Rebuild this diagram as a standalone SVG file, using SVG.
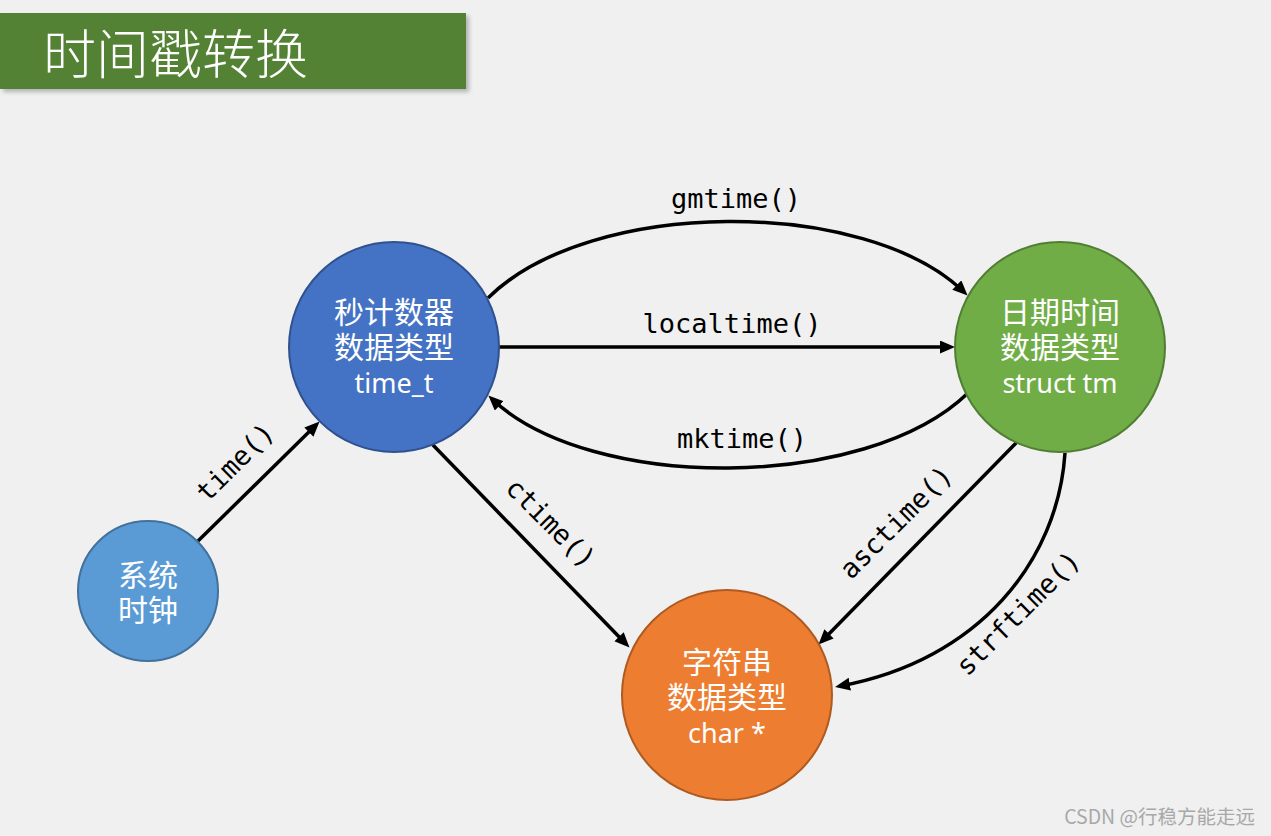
<svg xmlns="http://www.w3.org/2000/svg" width="1271" height="836" viewBox="0 0 1271 836">
  <style>
    .node-text { font-family: "Noto Sans CJK SC", "Noto Sans", sans-serif; font-size: 30px; fill: #ffffff; text-anchor: middle; }
    .lat { font-family: "Noto Sans", "Open Sans", sans-serif; font-size: 27px; }
    .edge { fill: none; stroke: #000000; stroke-width: 3.5; marker-end: url(#arrow); }
    .lbl { font-family: "DejaVu Sans Mono", "Liberation Mono", monospace; font-size: 27px; fill: #000000; text-anchor: middle; }
  </style>
  <defs>
    <marker id="arrow" markerUnits="userSpaceOnUse" markerWidth="16" markerHeight="14" refX="10" refY="6.5" orient="auto">
      <path d="M0,0 L15,6.5 L0,13 z" fill="#000000"/>
    </marker>
    <filter id="shadow" x="-5%" y="-20%" width="115%" height="150%">
      <feGaussianBlur stdDeviation="2"/>
    </filter>
  </defs>
  <rect x="0" y="0" width="1271" height="836" fill="#f0f0f0"/>

  <g id="title">
    <rect x="3" y="16" width="466" height="76" fill="#8a8a8a" opacity="0.6" filter="url(#shadow)"/>
    <rect x="0" y="13" width="466" height="76" fill="#548235"/>
    <text x="43" y="74" font-family="Noto Sans CJK SC, sans-serif" font-weight="300" font-size="53" fill="#ffffff">时间戳转换</text>
  </g>

  <g id="connectors">
    <path class="edge" d="M198,541 L316,425"/>
    <path class="edge" d="M488,298 C590,197 866,197 964,292"/>
    <path class="edge" d="M499,347 L950,347"/>
    <path class="edge" d="M968,393 C866,492 590,492 492,399"/>
    <path class="edge" d="M432,444 L626,644"/>
    <path class="edge" d="M1017,442 L822,641"/>
    <path class="edge" d="M1065,453 C1058,560 980,660 840,686"/>
    <text class="lbl" transform="translate(235,462) rotate(-45)" dominant-baseline="central">time()</text>
    <text class="lbl" x="736" y="208">gmtime()</text>
    <text class="lbl" x="732" y="333">localtime()</text>
    <text class="lbl" x="742" y="448">mktime()</text>
    <text class="lbl" transform="translate(551,523) rotate(45)" dominant-baseline="central">ctime()</text>
    <text class="lbl" transform="translate(896,522) rotate(-45)" dominant-baseline="central">asctime()</text>
    <text class="lbl" transform="translate(1018,613) rotate(-45)" dominant-baseline="central">strftime()</text>
  </g>

  <g id="node-clock">
    <circle cx="148" cy="591" r="70" fill="#5b9bd5" stroke="#41719c" stroke-width="2"/>
    <text class="node-text" x="148" y="586">系统</text>
    <text class="node-text" x="148" y="621">时钟</text>
  </g>

  <g id="node-time_t">
    <circle cx="394" cy="347" r="105" fill="#4472c4" stroke="#2f528f" stroke-width="2"/>
    <text class="node-text" x="394" y="323">秒计数器</text>
    <text class="node-text" x="394" y="358">数据类型</text>
    <text class="node-text lat" x="394" y="393">time_t</text>
  </g>

  <g id="node-tm">
    <circle cx="1060" cy="347" r="105" fill="#70ad47" stroke="#507e32" stroke-width="2"/>
    <text class="node-text" x="1060" y="323">日期时间</text>
    <text class="node-text" x="1060" y="358">数据类型</text>
    <text class="node-text lat" x="1060" y="393">struct tm</text>
  </g>

  <g id="node-char">
    <circle cx="727" cy="695" r="105" fill="#ed7d31" stroke="#ae5a21" stroke-width="2"/>
    <text class="node-text" x="727" y="673">字符串</text>
    <text class="node-text" x="727" y="708">数据类型</text>
    <text class="node-text lat" x="727" y="743">char *</text>
  </g>

  <text x="1255" y="824" text-anchor="end" font-family="Noto Sans CJK SC, sans-serif" font-size="19.5" fill="#a8a8a8">CSDN @行稳方能走远</text>
</svg>
